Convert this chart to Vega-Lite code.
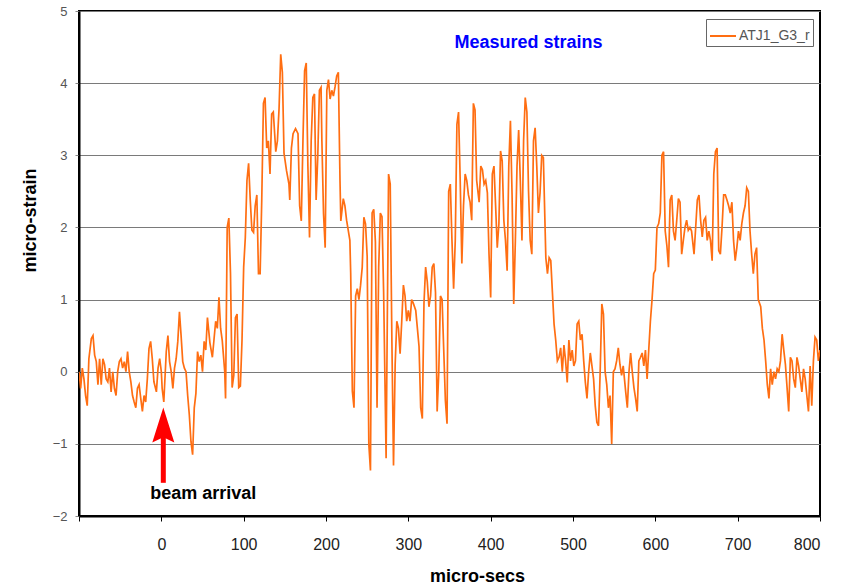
{
  "$schema": "https://vega.github.io/schema/vega-lite/v6.json",
  "width": 741,
  "height": 505,
  "autosize": {"type": "none"},
  "padding": {"left": 79, "top": 11, "right": 31, "bottom": 70},
  "background": "white",
  "config": {
    "font": "Liberation Sans",
    "view": {"stroke": "black", "strokeWidth": 2},
    "axis": {"labelFont": "Liberation Sans", "titleFont": "Liberation Sans"}
  },
  "datasets": {
    "strain": [
      {"t":-100,"v":0.0},{"t":-98,"v":-0.23},{"t":-96,"v":0.05},{"t":-94,"v":-0.1},{"t":-92,"v":-0.33},{"t":-90,"v":-0.47},{"t":-88,"v":0.18},{"t":-85,"v":0.46},{"t":-83,"v":0.5},{"t":-81,"v":0.23},{"t":-79,"v":0.14},{"t":-77,"v":-0.18},{"t":-75,"v":0.18},{"t":-73,"v":-0.18},{"t":-71,"v":0.18},{"t":-69,"v":0.1},{"t":-67,"v":-0.1},{"t":-65,"v":-0.14},{"t":-63,"v":0.05},{"t":-61,"v":-0.28},{"t":-59,"v":0.0},{"t":-57,"v":-0.23},{"t":-55,"v":-0.33},{"t":-53,"v":0.0},{"t":-51,"v":0.14},{"t":-49,"v":0.18},{"t":-47,"v":0.05},{"t":-45,"v":0.14},{"t":-43,"v":0.0},{"t":-41,"v":0.28},{"t":-39,"v":0.0},{"t":-37,"v":-0.14},{"t":-35,"v":-0.33},{"t":-33,"v":-0.42},{"t":-31,"v":-0.5},{"t":-29,"v":-0.23},{"t":-27,"v":-0.18},{"t":-25,"v":-0.37},{"t":-23,"v":-0.55},{"t":-21,"v":-0.33},{"t":-19,"v":-0.42},{"t":-17,"v":-0.1},{"t":-15,"v":0.32},{"t":-13,"v":0.42},{"t":-11,"v":0.18},{"t":-9,"v":-0.14},{"t":-6,"v":-0.28},{"t":-4,"v":0.05},{"t":-2,"v":0.18},{"t":0,"v":0.0},{"t":1,"v":-0.23},{"t":3,"v":-0.42},{"t":6,"v":0.28},{"t":8,"v":0.5},{"t":10,"v":0.14},{"t":12,"v":0.0},{"t":14,"v":-0.23},{"t":16,"v":0.05},{"t":18,"v":0.18},{"t":20,"v":0.42},{"t":22,"v":0.83},{"t":24,"v":0.5},{"t":26,"v":0.14},{"t":28,"v":0.05},{"t":30,"v":0.0},{"t":32,"v":-0.33},{"t":34,"v":-0.6},{"t":36,"v":-0.97},{"t":38,"v":-1.15},{"t":40,"v":-0.5},{"t":42,"v":-0.3},{"t":44,"v":0.28},{"t":46,"v":0.14},{"t":48,"v":0.23},{"t":50,"v":0.0},{"t":52,"v":0.42},{"t":54,"v":0.3},
      {"t":56,"v":0.75},{"t":59,"v":0.4},{"t":62,"v":0.2},{"t":64,"v":0.45},{"t":66,"v":0.7},{"t":68,"v":0.6},{"t":70,"v":1.03},{"t":72,"v":0.6},{"t":74,"v":0.43},{"t":77,"v":0.0},{"t":78,"v":-0.37},{"t":80,"v":2.0},{"t":82,"v":2.13},{"t":84,"v":1.36},{"t":86,"v":-0.22},{"t":88,"v":-0.05},{"t":90,"v":0.75},{"t":92,"v":0.8},{"t":94,"v":-0.22},{"t":96,"v":-0.2},{"t":98,"v":0.44},{"t":100,"v":1.45},{"t":102,"v":1.86},{"t":104,"v":2.65},{"t":106,"v":2.89},{"t":108,"v":2.38},{"t":110,"v":1.96},{"t":112,"v":1.93},{"t":114,"v":2.3},{"t":116,"v":2.45},{"t":118,"v":1.36},{"t":120,"v":1.36},{"t":122,"v":2.4},{"t":124,"v":3.72},{"t":126,"v":3.8},{"t":128,"v":3.1},{"t":130,"v":3.2},{"t":132,"v":2.74},{"t":134,"v":3.57},{"t":136,"v":3.6},{"t":139,"v":3.05},{"t":141,"v":3.2},{"t":143,"v":3.65},{"t":145,"v":4.4},{"t":147,"v":4.15},{"t":149,"v":3.03},{"t":152,"v":2.79},{"t":155,"v":2.6},{"t":156,"v":2.38},{"t":158,"v":3.1},{"t":160,"v":3.3},{"t":163,"v":3.37},{"t":166,"v":3.3},{"t":168,"v":2.3},{"t":170,"v":2.09},{"t":172,"v":3.2},{"t":174,"v":4.17},{"t":176,"v":4.28},{"t":178,"v":2.85},{"t":180,"v":1.86},{"t":182,"v":3.2},{"t":184,"v":3.8},{"t":186,"v":3.85},{"t":188,"v":2.38},{"t":190,"v":2.98},{"t":192,"v":3.9},
      {"t":194,"v":3.94},{"t":195,"v":3.2},{"t":197,"v":2.19},{"t":199,"v":1.72},{"t":201,"v":3.9},{"t":203,"v":4.05},{"t":205,"v":3.78},{"t":207,"v":3.9},{"t":209,"v":3.82},{"t":211,"v":3.95},{"t":213,"v":4.1},{"t":215,"v":4.15},{"t":217,"v":2.65},{"t":218,"v":2.09},{"t":221,"v":2.4},{"t":223,"v":2.3},{"t":225,"v":2.1},{"t":229,"v":1.82},{"t":230,"v":1.36},{"t":232,"v":-0.27},{"t":234,"v":-0.5},{"t":236,"v":1.05},{"t":238,"v":1.15},{"t":240,"v":1.0},{"t":242,"v":1.2},{"t":244,"v":1.45},{"t":246,"v":2.14},{"t":248,"v":2.05},{"t":250,"v":1.6},{"t":252,"v":-1.0},{"t":254,"v":-1.37},{"t":256,"v":2.2},{"t":258,"v":2.25},{"t":260,"v":1.8},{"t":262,"v":-0.5},{"t":264,"v":1.45},{"t":266,"v":2.2},{"t":268,"v":2.15},{"t":270,"v":1.1},{"t":273,"v":-1.2},{"t":276,"v":2.74},{"t":278,"v":2.6},{"t":280,"v":0.45},{"t":282,"v":-1.3},{"t":284,"v":0.1},{"t":286,"v":0.7},{"t":288,"v":0.6},{"t":290,"v":0.25},{"t":292,"v":0.7},{"t":294,"v":1.2},{"t":296,"v":1.05},{"t":298,"v":0.7},{"t":300,"v":0.85},{"t":302,"v":0.7},{"t":304,"v":1.0},{"t":306,"v":0.95},{"t":309,"v":0.85},{"t":311,"v":0.6},{"t":313,"v":0.35},{"t":315,"v":-0.5},{"t":317,"v":-0.65},{"t":319,"v":0.95},{"t":321,"v":1.45},{"t":323,"v":1.25},{"t":325,"v":0.9},{"t":327,"v":1.05},{"t":329,"v":1.45},{"t":331,"v":1.5},{"t":333,"v":1.1},{"t":335,"v":-0.55},{"t":337,"v":0.0},{"t":339,"v":1.05},{"t":341,"v":1.0},{"t":343,"v":0.3},{"t":345,"v":-0.4},{"t":347,"v":-0.72},
      {"t":349,"v":2.5},{"t":351,"v":2.6},{"t":353,"v":1.82},{"t":355,"v":1.15},{"t":357,"v":1.82},{"t":359,"v":3.43},{"t":361,"v":3.6},{"t":363,"v":2.65},{"t":365,"v":1.5},{"t":367,"v":2.3},{"t":369,"v":2.74},{"t":371,"v":2.65},{"t":373,"v":2.45},{"t":375,"v":2.35},{"t":377,"v":2.1},{"t":379,"v":3.72},{"t":381,"v":3.63},{"t":383,"v":2.65},{"t":386,"v":2.35},{"t":388,"v":2.85},{"t":390,"v":2.8},{"t":392,"v":2.6},{"t":394,"v":2.65},{"t":396,"v":2.48},{"t":398,"v":1.63},{"t":400,"v":1.03},{"t":402,"v":2.74},{"t":404,"v":2.85},{"t":406,"v":2.3},{"t":408,"v":1.72},{"t":410,"v":2.05},{"t":412,"v":3.06},{"t":414,"v":2.92},{"t":416,"v":2.1},{"t":418,"v":1.82},{"t":420,"v":1.4},{"t":422,"v":2.85},{"t":424,"v":3.48},{"t":426,"v":2.45},{"t":428,"v":0.94},{"t":430,"v":1.82},{"t":432,"v":2.85},{"t":434,"v":3.35},{"t":436,"v":2.65},{"t":438,"v":1.82},{"t":440,"v":3.2},{"t":442,"v":3.8},{"t":444,"v":3.6},{"t":446,"v":2.5},{"t":448,"v":1.82},{"t":450,"v":1.63},{"t":452,"v":3.2},{"t":454,"v":3.38},{"t":456,"v":2.85},{"t":458,"v":2.2},{"t":460,"v":2.48},{"t":462,"v":3.0},{"t":464,"v":2.97},{"t":467,"v":1.58},{"t":469,"v":1.36},{"t":471,"v":1.58},{"t":473,"v":1.54},{"t":475,"v":1.1},{"t":477,"v":0.66},{"t":479,"v":0.44},{"t":481,"v":0.15},{"t":483,"v":0.2},
      {"t":485,"v":0.33},{"t":487,"v":0.0},{"t":489,"v":0.37},{"t":491,"v":0.15},{"t":493,"v":-0.15},{"t":495,"v":0.44},{"t":497,"v":0.15},{"t":499,"v":0.3},{"t":501,"v":0.08},{"t":503,"v":0.15},{"t":505,"v":0.66},{"t":507,"v":0.7},{"t":509,"v":0.44},{"t":511,"v":0.52},{"t":513,"v":0.15},{"t":515,"v":-0.15},{"t":517,"v":-0.37},{"t":519,"v":0.0},{"t":521,"v":0.26},{"t":523,"v":0.08},{"t":525,"v":-0.1},{"t":527,"v":-0.47},{"t":529,"v":-0.7},{"t":531,"v":-0.75},{"t":533,"v":0.0},{"t":535,"v":0.94},{"t":537,"v":0.8},{"t":539,"v":0.0},{"t":541,"v":-0.18},{"t":543,"v":-0.5},{"t":545,"v":-0.33},{"t":547,"v":-1.0},{"t":549,"v":0.0},{"t":551,"v":0.04},{"t":553,"v":0.15},{"t":555,"v":0.33},{"t":557,"v":0.1},{"t":559,"v":-0.05},{"t":561,"v":0.08},{"t":564,"v":-0.28},{"t":566,"v":-0.5},{"t":568,"v":0.0},{"t":570,"v":0.26},{"t":572,"v":0.0},{"t":574,"v":-0.22},{"t":576,"v":-0.37},{"t":578,"v":-0.55},{"t":580,"v":0.15},{"t":582,"v":0.2},{"t":584,"v":0.26},{"t":586,"v":0.08},{"t":588,"v":0.3},{"t":590,"v":-0.1},{"t":592,"v":0.3},{"t":594,"v":0.7},{"t":596,"v":1.0},{"t":598,"v":1.36},{"t":600,"v":1.41},{"t":602,"v":2.0},{"t":604,"v":2.05},{"t":606,"v":2.2},{"t":608,"v":3.0},{"t":610,"v":3.05},{"t":612,"v":1.95},{"t":614,"v":1.75},{"t":616,"v":1.45},{"t":618,"v":2.38},{"t":620,"v":2.45},{"t":622,"v":1.95},{"t":624,"v":1.82},{"t":626,"v":2.1},{"t":628,"v":2.4},{"t":630,"v":2.35},{"t":632,"v":1.63},{"t":634,"v":1.82},{"t":636,"v":2.0},{"t":638,"v":2.1},{"t":640,"v":1.96},
      {"t":642,"v":2.0},{"t":644,"v":1.95},{"t":647,"v":1.63},{"t":649,"v":2.0},{"t":651,"v":2.38},{"t":653,"v":2.45},{"t":655,"v":2.1},{"t":657,"v":1.87},{"t":659,"v":2.1},{"t":661,"v":2.14},{"t":663,"v":1.82},{"t":665,"v":1.95},{"t":667,"v":1.82},{"t":669,"v":1.54},{"t":671,"v":2.74},{"t":673,"v":3.05},{"t":675,"v":3.1},{"t":677,"v":1.68},{"t":679,"v":1.63},{"t":681,"v":2.0},{"t":683,"v":2.45},{"t":685,"v":2.45},{"t":687,"v":2.38},{"t":689,"v":2.3},{"t":691,"v":2.2},{"t":693,"v":2.35},{"t":695,"v":1.82},{"t":697,"v":1.54},{"t":699,"v":1.72},{"t":701,"v":1.95},{"t":703,"v":1.82},{"t":705,"v":2.05},{"t":707,"v":2.2},{"t":709,"v":2.3},{"t":711,"v":2.55},{"t":713,"v":2.5},{"t":715,"v":1.95},{"t":717,"v":1.63},{"t":719,"v":1.36},{"t":721,"v":1.63},{"t":723,"v":1.72},{"t":725,"v":1.0},{"t":728,"v":0.9},{"t":730,"v":0.6},{"t":732,"v":0.44},{"t":734,"v":0.15},{"t":736,"v":-0.18},{"t":738,"v":-0.37},{"t":740,"v":0.04},{"t":742,"v":-0.18},{"t":744,"v":0.0},{"t":746,"v":-0.1},{"t":748,"v":0.04},{"t":750,"v":0.0},{"t":752,"v":0.15},{"t":754,"v":0.52},{"t":756,"v":0.3},{"t":758,"v":0.1},{"t":760,"v":-0.22},{"t":762,"v":-0.55},{"t":764,"v":0.2},{"t":766,"v":0.15},{"t":768,"v":-0.1},{"t":770,"v":-0.22},{"t":772,"v":0.2},{"t":774,"v":0.08},{"t":776,"v":-0.1},{"t":778,"v":-0.28},{"t":780,"v":0.04},{"t":782,"v":-0.1},{"t":784,"v":-0.33},{"t":786,"v":-0.55},{"t":788,"v":0.08},{"t":790,"v":-0.47},{"t":792,"v":0.15},{"t":794,"v":0.48},{"t":796,"v":0.44},{"t":798,"v":0.15},{"t":800,"v":0.3}
    ],
    "title_note": [{"x": 446, "y": 4.56, "label": "Measured strains"}],
    "beam_note": [{"x": 51, "y": -1.7, "label": "beam arrival"}],
    "arrow_shaft": [{"x": 2.4, "y": -1.54, "y2": -0.85}],
    "arrow_head": [{"x": 2.4, "y": -0.74}]
  },
  "layer": [
    {
      "data": {"name": "strain"},
      "mark": {"type": "line", "strokeWidth": 1.7, "clip": true},
      "encoding": {
        "x": {
          "field": "t", "type": "quantitative",
          "scale": {"domain": [-100, 800], "nice": false, "zero": false},
          "axis": {
            "title": "micro-secs",
            "values": [-100, 0, 100, 200, 300, 400, 500, 600, 700, 800],
            "labelExpr": "datum.value == -100 ? '' : datum.label",
            "grid": false,
            "domainColor": "black", "domainWidth": 2,
            "tickColor": "black", "tickSize": 5, "tickWidth": 1,
            "labelFontSize": 16, "labelColor": "#222", "labelPadding": 15,
            "titleFontSize": 18, "titleFontWeight": "bold", "titleColor": "black",
            "titleX": 398, "titleY": 51, "titleBaseline": "top", "titleAlign": "center"
          }
        },
        "y": {
          "field": "v", "type": "quantitative",
          "scale": {"domain": [-2, 5], "nice": false, "zero": false},
          "axis": {
            "title": "micro-strain",
            "values": [-2, -1, 0, 1, 2, 3, 4, 5],
            "format": "d",
            "grid": true, "gridColor": "#7a7a7a", "gridWidth": 1,
            "domainColor": "black", "domainWidth": 2,
            "tickColor": "#888", "tickSize": 4,
            "labelFontSize": 13, "labelColor": "#555", "labelPadding": 8,
            "titleFontSize": 18, "titleFontWeight": "bold", "titleColor": "black",
            "titleAngle": 270, "titleX": -49, "titleY": 209,
            "titleAlign": "center", "titleBaseline": "middle"
          }
        },
        "color": {
          "datum": "ATJ1_G3_r",
          "scale": {"range": ["#FF6E12"]},
          "legend": {
            "title": null,
            "orient": "none", "legendX": 627, "legendY": 8,
            "direction": "vertical",
            "strokeColor": "#666", "fillColor": "white", "padding": 3,
            "symbolType": "stroke", "symbolSize": 676, "symbolStrokeWidth": 2,
            "labelFontSize": 14, "labelColor": "#555", "labelOffset": 2
          }
        }
      }
    },
    {
      "data": {"name": "title_note"},
      "mark": {"type": "text", "color": "#0000FF", "fontWeight": "bold", "fontSize": 18, "align": "center", "baseline": "middle"},
      "encoding": {
        "x": {"field": "x", "type": "quantitative"},
        "y": {"field": "y", "type": "quantitative"},
        "text": {"field": "label"}
      }
    },
    {
      "data": {"name": "beam_note"},
      "mark": {"type": "text", "color": "black", "fontWeight": "bold", "fontSize": 18, "align": "center", "baseline": "middle"},
      "encoding": {
        "x": {"field": "x", "type": "quantitative"},
        "y": {"field": "y", "type": "quantitative"},
        "text": {"field": "label"}
      }
    },
    {
      "data": {"name": "arrow_shaft"},
      "mark": {"type": "rule", "color": "#FF0000", "strokeWidth": 5},
      "encoding": {
        "x": {"field": "x", "type": "quantitative"},
        "y": {"field": "y", "type": "quantitative"},
        "y2": {"field": "y2"}
      }
    },
    {
      "data": {"name": "arrow_head"},
      "mark": {"type": "point", "filled": true, "color": "#FF0000", "opacity": 1, "size": 1225, "shape": "M0,-1L-0.63,1L0,0.7L0.63,1Z"},
      "encoding": {
        "x": {"field": "x", "type": "quantitative"},
        "y": {"field": "y", "type": "quantitative"}
      }
    }
  ]
}
